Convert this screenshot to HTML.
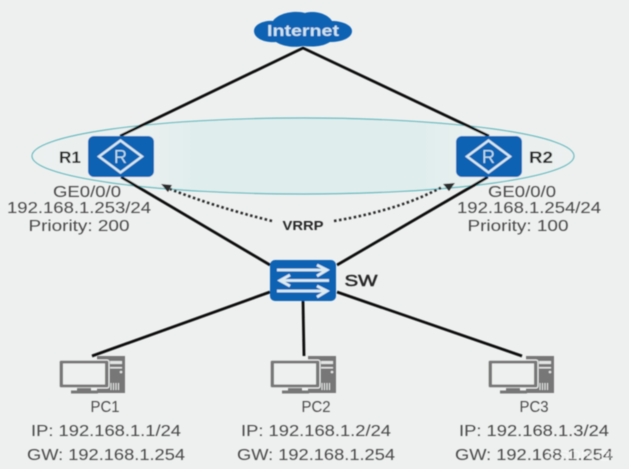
<!DOCTYPE html>
<html><head><meta charset="utf-8"><style>
html,body{margin:0;padding:0;background:#eef0ef;width:629px;height:469px;overflow:hidden}
svg{display:block}
text{font-family:"Liberation Sans",sans-serif;fill:#484848;font-size:16px;text-anchor:middle}
.b{fill:#262626;font-weight:bold}
</style></head><body>
<svg width="629" height="469" viewBox="0 0 629 469" xmlns="http://www.w3.org/2000/svg">
<defs>
<linearGradient id="e" x1="0" x2="1" y1="0" y2="0">
<stop offset="0" stop-color="#ecf1f0"/><stop offset="0.22" stop-color="#e9f0ef"/><stop offset="0.3" stop-color="#e0eded"/><stop offset="0.72" stop-color="#e0eded"/><stop offset="0.8" stop-color="#e8f0ef"/><stop offset="1" stop-color="#ecf1f0"/>
</linearGradient>
<filter id="s" x="-5%" y="-5%" width="110%" height="110%"><feGaussianBlur stdDeviation="0.5"/></filter>
<g id="pc">
<rect x="38" y="0" width="28" height="37" fill="#777"/>
<rect x="51" y="5" width="12" height="3" fill="#e4e6e5"/>
<rect x="51" y="11" width="12" height="1.5" fill="#e4e6e5"/>
<circle cx="62" cy="16" r="1.3" fill="#e4e6e5"/>
<path d="M52 27v7M54.5 27v7M57 27v7M59.5 27v7" stroke="#e4e6e5" stroke-width="1"/>
<rect x="0" y="4" width="50" height="28" rx="2" fill="#777" stroke="#eef0ef" stroke-width="1.2"/>
<rect x="4" y="7.5" width="42" height="21" fill="#eef0ef"/>
<rect x="18" y="32" width="14" height="3" fill="#777"/>
<rect x="12" y="34.5" width="27" height="3" fill="#777"/>
</g>
<g id="rt">
<rect x="1" width="66" height="41" rx="6" fill="#0a62b4"/>
<path d="M33.5 4.5 L55 20.5 L33.5 36.5 L12 20.5Z" fill="none" stroke="#d6e8f0" stroke-width="2.4"/>
<text x="33.5" y="27" style="fill:#bfdcec;font-size:18px">R</text>
</g>
</defs>
<g filter="url(#s)">
<ellipse cx="303" cy="156" rx="271" ry="38" fill="url(#e)" stroke="#5fb9c0" stroke-width="1.2"/>
<g stroke="#111" stroke-width="2.8" fill="none">
<path d="M120 136 L303 48 L489 136"/>
<path d="M121 177 L270 265"/>
<path d="M488 177 L337 265"/>
<path d="M270 292 L92 356"/>
<path d="M303 301 L304 356"/>
<path d="M337 292 L522 356"/>
</g>
<path d="M272 221 Q215 207 170 189" fill="none" stroke="#2b2b2b" stroke-width="2.6" stroke-dasharray="2.5 2.5"/>
<path d="M334 221 Q400 210 442 187" fill="none" stroke="#2b2b2b" stroke-width="2.6" stroke-dasharray="2.5 2.5"/>
<path d="M161 184 L172 185 L168 192Z" fill="#2b2b2b"/>
<path d="M455 183 L449 191 L443 184Z" fill="#2b2b2b"/>
<use href="#rt" x="87" y="136"/>
<use href="#rt" x="455" y="136"/>
<path d="M254 31 C254 24 265 20 273 21 C278 13 295 10 305 13 C315 10 328 14 332 21 C342 21 352 25 352 31 C352 38 342 42 330 42 C322 47 312 47 303 46 C293 48 282 46 276 42 C264 43 254 38 254 31Z" fill="#0a62b4"/>
<text x="303" y="36" textLength="72" lengthAdjust="spacingAndGlyphs" style="fill:#cfe3ef;font-weight:bold;font-size:16px">Internet</text>
<rect x="270" y="260" width="66" height="41" rx="5" fill="#0a62b4"/>
<g stroke="#dcebf2" stroke-width="2.8" fill="none">
<path d="M277 270 H326 M317 265 L327 270 L317 276"/>
<path d="M329 280.5 H281 M290 275 L280 280.5 L290 286"/>
<path d="M277 291 H326 M317 286 L327 291 L317 297"/>
</g>
<use href="#pc" x="59" y="356"/>
<use href="#pc" x="270" y="356"/>
<use href="#pc" x="488" y="356"/>
<text class="b" x="70" y="163" textLength="22" lengthAdjust="spacingAndGlyphs" style="font-size:17px">R1</text>
<text class="b" x="541" y="163" textLength="24" lengthAdjust="spacingAndGlyphs" style="font-size:17px">R2</text>
<text class="b" x="361" y="286" textLength="33" lengthAdjust="spacingAndGlyphs" style="font-size:16px;font-weight:normal;stroke:#262626;stroke-width:.5">SW</text>
<text class="b" x="303" y="230" textLength="41" lengthAdjust="spacingAndGlyphs" style="font-size:12.5px">VRRP</text>
<text x="87" y="197" textLength="68" lengthAdjust="spacingAndGlyphs">GE0/0/0</text>
<text x="79" y="213" textLength="144" lengthAdjust="spacingAndGlyphs">192.168.1.253/24</text>
<text x="79" y="231" textLength="101" lengthAdjust="spacingAndGlyphs">Priority: 200</text>
<text x="522" y="197" textLength="68" lengthAdjust="spacingAndGlyphs">GE0/0/0</text>
<text x="529" y="213" textLength="144" lengthAdjust="spacingAndGlyphs">192.168.1.254/24</text>
<text x="518" y="231" textLength="101" lengthAdjust="spacingAndGlyphs">Priority: 100</text>
<text x="105" y="412" textLength="29" lengthAdjust="spacingAndGlyphs">PC1</text>
<text x="106" y="436" textLength="150" lengthAdjust="spacingAndGlyphs">IP: 192.168.1.1/24</text>
<text x="106" y="460" textLength="158" lengthAdjust="spacingAndGlyphs">GW: 192.168.1.254</text>
<text x="316" y="412" textLength="29" lengthAdjust="spacingAndGlyphs">PC2</text>
<text x="316" y="436" textLength="150" lengthAdjust="spacingAndGlyphs">IP: 192.168.1.2/24</text>
<text x="316" y="460" textLength="158" lengthAdjust="spacingAndGlyphs">GW: 192.168.1.254</text>
<text x="534" y="412" textLength="29" lengthAdjust="spacingAndGlyphs">PC3</text>
<text x="534" y="436" textLength="150" lengthAdjust="spacingAndGlyphs">IP: 192.168.1.3/24</text>
<text x="534" y="460" textLength="158" lengthAdjust="spacingAndGlyphs">GW: 192.168.1.254</text>
<text x="580" y="459" textLength="66" lengthAdjust="spacingAndGlyphs" style="font-size:12px;fill:#ffffff;fill-opacity:.55">CSDN @</text>
</g>
</svg>
</body></html>
